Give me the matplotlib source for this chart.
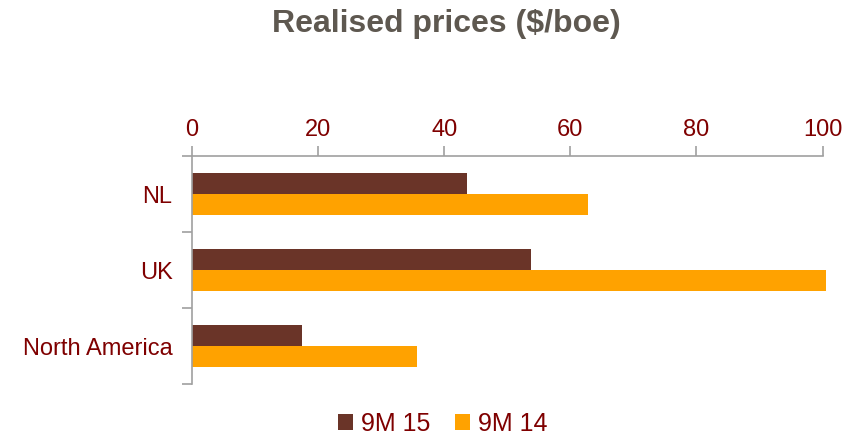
import numpy as np
import matplotlib.pyplot as plt

plt.rcParams['font.family'] = ['Liberation Sans', 'DejaVu Sans']

# Realised prices per region, $/boe
regions = ['NL', 'UK', 'North America']
prices_9m15 = [43.6, 53.8, 17.5]
prices_9m14 = [62.8, 100.5, 35.7]
series_names = ['9M 15', '9M 14']

dark_red = '#7F0000'
brown = '#6A3428'
orange = '#FFA200'
grey = '#A0A0A0'

fig = plt.figure(figsize=(8.65, 4.36), dpi=100)
ax = fig.add_axes([0.222, 0.119, 0.729, 0.523])

y = np.arange(len(regions))
h = 0.28
b1 = ax.barh(y - h / 2, prices_9m15, height=h, color=brown, label=series_names[0])
b2 = ax.barh(y + h / 2, prices_9m14, height=h, color=orange, label=series_names[1])
for bar in list(b1) + list(b2):
    bar.set_clip_on(False)

ax.set_xlim(0, 100)
ax.set_ylim(2.5, -0.5)

# value axis on top
ax.xaxis.tick_top()
ax.set_xticks(np.arange(0, 101, 20))
ax.tick_params(axis='x', colors=grey, length=7, width=1.2, labelsize=17,
               labelcolor=dark_red, pad=4)

# category labels between boundary ticks
ax.set_yticks(y)
ax.set_yticklabels(regions)
ax.tick_params(axis='y', length=0, labelsize=17, labelcolor=dark_red, pad=14)
ax.set_yticks(np.arange(-0.5, 2.6, 1), minor=True)
ax.tick_params(axis='y', which='minor', length=7, width=1.2, color=grey)

for side in ['right', 'bottom']:
    ax.spines[side].set_visible(False)
for side in ['top', 'left']:
    ax.spines[side].set_color(grey)
    ax.spines[side].set_linewidth(1.2)

fig.text(0.516, 0.945, 'Realised prices ($/boe)', ha='center', va='center',
         fontsize=23, fontweight='bold', color='#5E5850')

leg = fig.legend(loc='center', bbox_to_anchor=(0.512, 0.028), ncol=2, frameon=False,
                 fontsize=18, handlelength=0.6, handleheight=0.6, handletextpad=0.3,
                 columnspacing=1.0, borderpad=0)
for t in leg.get_texts():
    t.set_color(dark_red)

fig.savefig('out.png', dpi=100)
